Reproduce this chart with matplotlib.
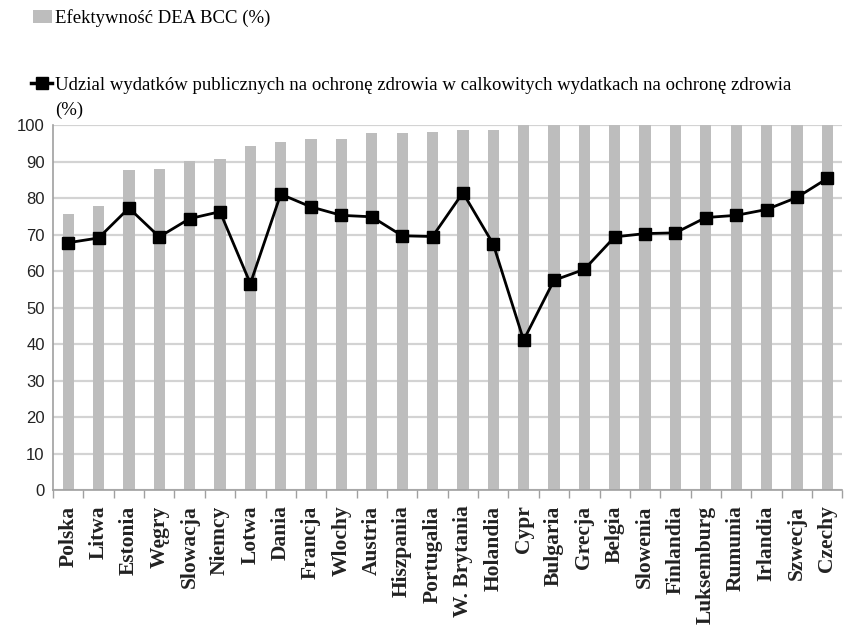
import matplotlib
matplotlib.use("Agg")
import matplotlib.pyplot as plt
from matplotlib.patches import Patch
from matplotlib.lines import Line2D
import numpy as np

# Dane
kraje = ["Polska", "Litwa", "Estonia", "Węgry", "Slowacja", "Niemcy", "Lotwa",
         "Dania", "Francja", "Wlochy", "Austria", "Hiszpania", "Portugalia",
         "W. Brytania", "Holandia", "Cypr", "Bulgaria", "Grecja", "Belgia",
         "Slowenia", "Finlandia", "Luksemburg", "Rumunia", "Irlandia",
         "Szwecja", "Czechy"]
efektywnosc = [75.8, 77.9, 87.6, 88.1, 90.1, 90.7, 94.2, 95.4, 96.1, 96.1,
               97.9, 97.9, 98.2, 98.7, 98.7, 100, 100, 100, 100, 100, 100,
               100, 100, 100, 100, 100]
udzial = [67.8, 69.1, 77.3, 69.4, 74.4, 76.3, 56.6, 81.1, 77.6, 75.3, 74.9,
          69.7, 69.5, 81.5, 67.4, 41.1, 57.5, 60.5, 69.4, 70.3, 70.5, 74.7,
          75.3, 76.9, 80.2, 85.4]
y_ticks = list(range(0, 101, 10))

lab_bar = "Efektywność DEA BCC (%)"
lab_line = ("Udzial wydatków publicznych na ochronę zdrowia w calkowitych "
            "wydatkach na ochronę zdrowia")
lab_line2 = "(%)"

serif = "Liberation Serif"
sans = "Liberation Sans"
szary = "#bdbdbd"

fig = plt.figure(figsize=(8.47, 6.26), dpi=100)
ax = fig.add_axes([0.0626, 0.217, 0.932, 0.583])

x = np.arange(len(kraje))
ax.bar(x, efektywnosc, width=0.37, color=szary, zorder=2)
ax.plot(x, udzial, color="black", linewidth=2, marker="s", markersize=8.5,
        zorder=3)

ax.set_xlim(-0.5, len(kraje) - 0.5)
ax.set_ylim(0, 100)
ax.set_yticks(y_ticks)
ax.set_yticklabels([str(v) for v in y_ticks], fontfamily=sans, fontsize=12,
                   color="#222222")
ax.yaxis.grid(True, color="#d3d3d3", linewidth=1.6, zorder=0)
ax.set_axisbelow(True)
ax.tick_params(axis="y", length=0, pad=6)

ax.set_xticks(x)
ax.set_xticklabels(kraje, rotation=90, fontfamily=serif, fontsize=15.5,
                   fontweight="bold", color="#222222")
ax.set_xticks(np.arange(-0.5, len(kraje), 1), minor=True)
ax.tick_params(axis="x", which="major", length=0, pad=11)
ax.tick_params(axis="x", which="minor", length=6, color="#a0a0a0", width=1)

for s in ["top", "right"]:
    ax.spines[s].set_visible(False)
for s in ["left", "bottom"]:
    ax.spines[s].set_color("#a0a0a0")
    ax.spines[s].set_linewidth(1.2)

# legenda - dwa osobne wpisy jak w oryginale
h_bar = Patch(facecolor=szary, edgecolor="none")
h_line = Line2D([], [], color="black", linewidth=2.5, marker="s",
                markersize=9)
fig.legend([h_bar], [lab_bar], loc="center left",
           bbox_to_anchor=(0.039, 0.971), frameon=False, borderpad=0,
           borderaxespad=0, prop={"family": serif, "size": 13.5},
           handlelength=1.0, handleheight=0.75, handletextpad=0.15)
fig.legend([h_line], [lab_line], loc="center left",
           bbox_to_anchor=(0.037, 0.864), frameon=False, borderpad=0,
           borderaxespad=0, prop={"family": serif, "size": 13.5},
           handlelength=1.1, handletextpad=0.15)
fig.text(0.065, 0.824, lab_line2, family=serif, fontsize=13.5, va="center")

fig.savefig("out.png", dpi=100)
